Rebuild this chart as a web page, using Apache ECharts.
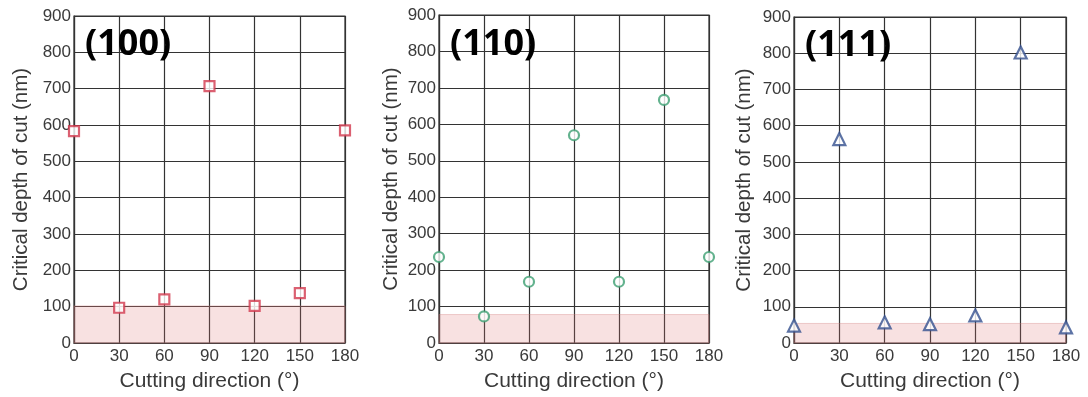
<!DOCTYPE html>
<html>
<head>
<meta charset="utf-8">
<script src="https://cdn.jsdelivr.net/npm/echarts@6/dist/echarts.min.js"></script>
<style>
  html, body { margin: 0; padding: 0; background: #fff; }
  #chart { width: 1088px; height: 397px; }
</style>
</head>
<body>
<div id="chart"></div>
<script>
// cutting directions (deg)
const directions = [0, 30, 60, 90, 120, 150, 180];
const xTicks = [0, 30, 60, 90, 120, 150, 180];
const yTicks = [0, 100, 200, 300, 400, 500, 600, 700, 800, 900];

// critical depth of cut (nm) per plane
const planeLabels = ['(100)', '(110)', '(111)'];
const depth100 = [583, 97, 120, 707, 102, 137, 585];
const depth110 = [236, 73, 168, 570, 168, 667, 236];
const depth111 = [48, 563, 57, 52, 76, 802, 43];
// upper edge of the shaded ductile band (nm)
const bandTop = [102, 78, 54];

const chart = echarts.init(document.getElementById('chart'));

const panels = [
  { data: depth100, symbol: 'rect', color: '#d2384e', grid: { left: 74, right: 743, top: 16, bottom: 49 }, nameGap: 42, labelTop: 27 },
  { data: depth110, symbol: 'circle', color: '#3c9f72', grid: { left: 439, right: 379, top: 15, bottom: 50 }, nameGap: 37, labelTop: 27 },
  { data: depth111, symbol: 'triangle', color: '#34508f', grid: { left: 794, right: 22, top: 17, bottom: 47 }, nameGap: 39, labelTop: 28 }
];

const fontFamily = '"Liberation Sans", Arial, sans-serif';
const textColor = '#3a3a3a';

const grids = [], xAxes = [], yAxes = [], series = [], graphics = [];

panels.forEach((p, i) => {
  grids.push(Object.assign({ show: true, borderColor: '#333', borderWidth: 1.2, backgroundColor: 'transparent' }, p.grid));
  xAxes.push({
    gridIndex: i, type: 'value', min: xTicks[0], max: xTicks[xTicks.length - 1], interval: 30,
    name: 'Cutting direction (°)', nameLocation: 'middle', nameGap: 28,
    nameTextStyle: { fontSize: 21, color: textColor, fontFamily },
    axisLine: { show: true, lineStyle: { color: '#333', width: 1.2 } },
    axisTick: { show: false },
    axisLabel: { fontSize: 17, color: textColor, fontFamily, margin: 5 },
    splitLine: { show: true, lineStyle: { color: '#333', width: 1.2 } }
  });
  yAxes.push({
    gridIndex: i, type: 'value', min: yTicks[0], max: yTicks[yTicks.length - 1], interval: 100,
    name: 'Critical depth of cut (nm)', nameLocation: 'middle', nameGap: p.nameGap,
    nameTextStyle: { fontSize: 20.5, color: textColor, fontFamily },
    axisLine: { show: true, lineStyle: { color: '#333', width: 1.2 } },
    axisTick: { show: false },
    axisLabel: { fontSize: 17, color: textColor, fontFamily, margin: 3 },
    splitLine: { show: true, lineStyle: { color: '#333', width: 1.2 } }
  });
  series.push({
    type: 'scatter', xAxisIndex: i, yAxisIndex: i, z: 2,
    symbol: p.symbol, symbolSize: p.symbol === 'triangle' ? 12 : 10,
    itemStyle: { color: '#fff', borderColor: p.color, borderWidth: 2.2 },
    data: directions.map((d, k) => [d, p.data[k]])
  });
  // translucent band drawn above the grid and markers
  series.push({
    type: 'line', xAxisIndex: i, yAxisIndex: i, z: 5, data: [], silent: true,
    markArea: {
      silent: true,
      itemStyle: { color: 'rgba(225, 120, 120, 0.22)', borderColor: 'rgba(205, 120, 120, 0.35)', borderWidth: 1 },
      data: [[{ coord: [xTicks[0], 0] }, { coord: [xTicks[xTicks.length - 1], bandTop[i]] }]]
    }
  });
  graphics.push({
    type: 'text', left: p.grid.left + 11, top: p.labelTop, z: 10,
    style: { text: planeLabels[i], fontSize: 36, fontWeight: 'bold', fill: '#000', fontFamily: '"Noto Sans", sans-serif' }
  });
});

chart.setOption({
  animation: false,
  grid: grids,
  xAxis: xAxes,
  yAxis: yAxes,
  series: series,
  graphic: graphics
});
</script>
</body>
</html>
